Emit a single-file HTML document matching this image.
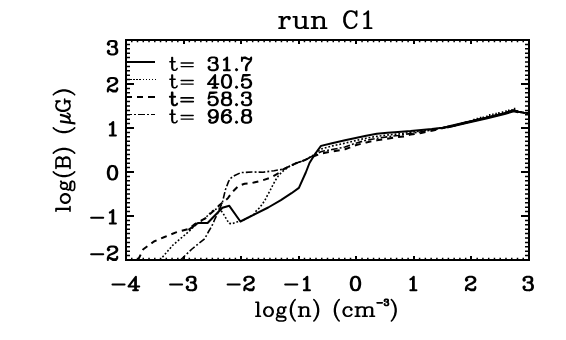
<!DOCTYPE html>
<html><head><meta charset="utf-8"><title>run C1</title>
<style>html,body{margin:0;padding:0;background:#fff;font-family:"Liberation Sans",sans-serif}svg{display:block}</style>
</head><body>
<svg width="566" height="340" viewBox="0 0 566 340">
<rect x="0" y="0" width="566" height="340" fill="#fff" stroke="none"/>
<g stroke="#000" fill="none" shape-rendering="crispEdges">
<rect x="126" y="40" width="403" height="220" stroke-width="2"/>
<path d="M126.00 260 v-4.4 M126.00 40 v4.4 M183.57 260 v-4.4 M183.57 40 v4.4 M241.14 260 v-4.4 M241.14 40 v4.4 M298.71 260 v-4.4 M298.71 40 v4.4 M356.29 260 v-4.4 M356.29 40 v4.4 M413.86 260 v-4.4 M413.86 40 v4.4 M471.43 260 v-4.4 M471.43 40 v4.4 M529.00 260 v-4.4 M529.00 40 v4.4 M126 260.00 h8.0 M529 260.00 h-8.0 M126 216.00 h8.0 M529 216.00 h-8.0 M126 172.00 h8.0 M529 172.00 h-8.0 M126 128.00 h8.0 M529 128.00 h-8.0 M126 84.00 h8.0 M529 84.00 h-8.0 M126 40.00 h8.0 M529 40.00 h-8.0" stroke-width="2"/>
</g>
<path d="M131.76 260 v-2.2 M131.76 40 v2.2 M137.51 260 v-2.2 M137.51 40 v2.2 M143.27 260 v-2.2 M143.27 40 v2.2 M149.03 260 v-2.2 M149.03 40 v2.2 M154.79 260 v-2.2 M154.79 40 v2.2 M160.54 260 v-2.2 M160.54 40 v2.2 M166.30 260 v-2.2 M166.30 40 v2.2 M172.06 260 v-2.2 M172.06 40 v2.2 M177.81 260 v-2.2 M177.81 40 v2.2 M189.33 260 v-2.2 M189.33 40 v2.2 M195.09 260 v-2.2 M195.09 40 v2.2 M200.84 260 v-2.2 M200.84 40 v2.2 M206.60 260 v-2.2 M206.60 40 v2.2 M212.36 260 v-2.2 M212.36 40 v2.2 M218.11 260 v-2.2 M218.11 40 v2.2 M223.87 260 v-2.2 M223.87 40 v2.2 M229.63 260 v-2.2 M229.63 40 v2.2 M235.39 260 v-2.2 M235.39 40 v2.2 M246.90 260 v-2.2 M246.90 40 v2.2 M252.66 260 v-2.2 M252.66 40 v2.2 M258.41 260 v-2.2 M258.41 40 v2.2 M264.17 260 v-2.2 M264.17 40 v2.2 M269.93 260 v-2.2 M269.93 40 v2.2 M275.69 260 v-2.2 M275.69 40 v2.2 M281.44 260 v-2.2 M281.44 40 v2.2 M287.20 260 v-2.2 M287.20 40 v2.2 M292.96 260 v-2.2 M292.96 40 v2.2 M304.47 260 v-2.2 M304.47 40 v2.2 M310.23 260 v-2.2 M310.23 40 v2.2 M315.99 260 v-2.2 M315.99 40 v2.2 M321.74 260 v-2.2 M321.74 40 v2.2 M327.50 260 v-2.2 M327.50 40 v2.2 M333.26 260 v-2.2 M333.26 40 v2.2 M339.01 260 v-2.2 M339.01 40 v2.2 M344.77 260 v-2.2 M344.77 40 v2.2 M350.53 260 v-2.2 M350.53 40 v2.2 M362.04 260 v-2.2 M362.04 40 v2.2 M367.80 260 v-2.2 M367.80 40 v2.2 M373.56 260 v-2.2 M373.56 40 v2.2 M379.31 260 v-2.2 M379.31 40 v2.2 M385.07 260 v-2.2 M385.07 40 v2.2 M390.83 260 v-2.2 M390.83 40 v2.2 M396.59 260 v-2.2 M396.59 40 v2.2 M402.34 260 v-2.2 M402.34 40 v2.2 M408.10 260 v-2.2 M408.10 40 v2.2 M419.61 260 v-2.2 M419.61 40 v2.2 M425.37 260 v-2.2 M425.37 40 v2.2 M431.13 260 v-2.2 M431.13 40 v2.2 M436.89 260 v-2.2 M436.89 40 v2.2 M442.64 260 v-2.2 M442.64 40 v2.2 M448.40 260 v-2.2 M448.40 40 v2.2 M454.16 260 v-2.2 M454.16 40 v2.2 M459.91 260 v-2.2 M459.91 40 v2.2 M465.67 260 v-2.2 M465.67 40 v2.2 M477.19 260 v-2.2 M477.19 40 v2.2 M482.94 260 v-2.2 M482.94 40 v2.2 M488.70 260 v-2.2 M488.70 40 v2.2 M494.46 260 v-2.2 M494.46 40 v2.2 M500.21 260 v-2.2 M500.21 40 v2.2 M505.97 260 v-2.2 M505.97 40 v2.2 M511.73 260 v-2.2 M511.73 40 v2.2 M517.49 260 v-2.2 M517.49 40 v2.2 M523.24 260 v-2.2 M523.24 40 v2.2 M126 255.60 h4.0 M529 255.60 h-4.0 M126 251.20 h4.0 M529 251.20 h-4.0 M126 246.80 h4.0 M529 246.80 h-4.0 M126 242.40 h4.0 M529 242.40 h-4.0 M126 238.00 h4.0 M529 238.00 h-4.0 M126 233.60 h4.0 M529 233.60 h-4.0 M126 229.20 h4.0 M529 229.20 h-4.0 M126 224.80 h4.0 M529 224.80 h-4.0 M126 220.40 h4.0 M529 220.40 h-4.0 M126 211.60 h4.0 M529 211.60 h-4.0 M126 207.20 h4.0 M529 207.20 h-4.0 M126 202.80 h4.0 M529 202.80 h-4.0 M126 198.40 h4.0 M529 198.40 h-4.0 M126 194.00 h4.0 M529 194.00 h-4.0 M126 189.60 h4.0 M529 189.60 h-4.0 M126 185.20 h4.0 M529 185.20 h-4.0 M126 180.80 h4.0 M529 180.80 h-4.0 M126 176.40 h4.0 M529 176.40 h-4.0 M126 167.60 h4.0 M529 167.60 h-4.0 M126 163.20 h4.0 M529 163.20 h-4.0 M126 158.80 h4.0 M529 158.80 h-4.0 M126 154.40 h4.0 M529 154.40 h-4.0 M126 150.00 h4.0 M529 150.00 h-4.0 M126 145.60 h4.0 M529 145.60 h-4.0 M126 141.20 h4.0 M529 141.20 h-4.0 M126 136.80 h4.0 M529 136.80 h-4.0 M126 132.40 h4.0 M529 132.40 h-4.0 M126 123.60 h4.0 M529 123.60 h-4.0 M126 119.20 h4.0 M529 119.20 h-4.0 M126 114.80 h4.0 M529 114.80 h-4.0 M126 110.40 h4.0 M529 110.40 h-4.0 M126 106.00 h4.0 M529 106.00 h-4.0 M126 101.60 h4.0 M529 101.60 h-4.0 M126 97.20 h4.0 M529 97.20 h-4.0 M126 92.80 h4.0 M529 92.80 h-4.0 M126 88.40 h4.0 M529 88.40 h-4.0 M126 79.60 h4.0 M529 79.60 h-4.0 M126 75.20 h4.0 M529 75.20 h-4.0 M126 70.80 h4.0 M529 70.80 h-4.0 M126 66.40 h4.0 M529 66.40 h-4.0 M126 62.00 h4.0 M529 62.00 h-4.0 M126 57.60 h4.0 M529 57.60 h-4.0 M126 53.20 h4.0 M529 53.20 h-4.0 M126 48.80 h4.0 M529 48.80 h-4.0 M126 44.40 h4.0 M529 44.40 h-4.0" stroke="#000" stroke-width="1.5"/>
<g stroke="#000" fill="none" stroke-linejoin="round">
<path d="M188.5 229.9 L198.0 223.0 L207.6 223.0 L222.4 207.7 L229.3 205.8 L240.4 221.5 L268.2 207.5 L280.9 200.1 L291.5 193.2 L298.9 187.9 L305.8 172.5 L309.5 163.0 L315.0 154.0 L321.0 145.9 L332.0 143.3 L345.0 140.3 L355.6 138.0 L366.2 135.7 L376.8 133.8 L387.4 132.7 L398.0 131.9 L410.6 131.0 L421.2 130.0 L431.8 129.1 L442.4 127.8 L453.0 125.9 L465.2 122.7 L487.3 117.6 L504.5 113.4 L513.6 110.5 L518.2 111.7 L524.0 112.8 L528.0 113.1" stroke-width="2"/>
<path d="M160.0 260.0 L173.0 245.0 L187.8 232.4 L196.0 224.7 L204.7 218.6 L209.7 213.5 L213.9 209.8 L219.0 208.3 L222.9 213.0 L225.1 216.7 L227.2 220.4 L229.3 223.4 L232.0 223.8 L236.2 222.0 L241.0 221.2 L254.0 214.5 L255.8 211.4 L259.0 208.3 L261.6 205.1 L264.8 200.5 L267.7 194.8 L269.8 191.1 L273.0 184.7 L275.6 180.0 L278.8 175.2 L283.1 171.0 L290.0 166.0 L297.4 162.7 L304.8 160.1 L312.2 155.8 L321.5 149.0 L332.0 146.0 L345.0 143.2 L355.6 140.6 L366.0 138.2 L377.0 136.3 L387.0 135.0 L398.0 134.0 L410.0 132.5 L421.0 131.0 L432.0 129.5 L442.4 127.8 L453.0 125.9 L465.2 122.7 L487.3 117.6 L504.5 113.4 L513.6 110.5 L518.2 111.7 L524.0 112.8 L528.0 113.1" stroke-width="1.6" stroke-dasharray="1.8 1.95"/>
<path d="M138.0 260.0 L143.3 249.3 L153.9 241.5 L164.5 237.0 L176.0 232.4 L188.9 228.8 L195.2 223.9 L205.4 218.3 L208.6 215.1 L215.0 209.8 L219.6 205.0 L227.9 198.3 L231.6 192.8 L238.4 186.0 L244.6 183.7 L250.7 183.3 L255.0 182.3 L261.4 180.7 L270.9 177.6 L279.4 172.8 L283.6 169.1 L290.0 166.0 L297.4 162.7 L304.8 160.1 L312.2 156.8 L321.5 153.5 L332.0 151.5 L345.0 149.3 L355.6 145.3 L366.2 142.4 L376.8 140.3 L387.4 138.7 L398.0 137.1 L405.0 136.3 L410.6 134.6 L421.2 132.9 L431.8 130.8 L439.0 129.3 L445.0 127.5 L453.0 125.9 L465.2 122.7 L487.3 117.6 L504.5 113.4 L513.6 110.5 L518.2 111.7 L524.0 112.8 L528.0 113.1" stroke-width="2" stroke-dasharray="6 5"/>
<path d="M180.4 260.0 L192.0 249.0 L204.7 238.7 L208.6 231.5 L211.8 226.2 L215.0 218.8 L217.6 213.5 L222.4 202.4 L225.4 189.7 L228.5 181.6 L230.3 178.5 L234.7 175.5 L240.9 172.6 L252.0 172.0 L263.1 172.2 L274.1 170.7 L283.6 169.1 L290.0 166.0 L297.4 162.7 L304.8 160.1 L312.2 156.3 L321.5 151.5 L332.0 149.5 L345.0 147.0 L355.6 143.2 L366.0 140.3 L377.0 138.3 L387.0 136.9 L398.0 135.5 L410.0 133.6 L421.0 131.8 L432.0 130.1 L442.4 127.8 L453.0 125.9 L465.2 122.7 L487.3 117.6 L504.5 113.4 L513.6 110.5 L518.2 111.7 L524.0 112.8 L528.0 113.1" stroke-width="1.6" stroke-dasharray="6.6 2.15 1.9 2.15"/>
<path d="M474.0 120.5 v-1.7 M477.3 119.7 v-1.9 M480.6 118.8 v-2.1 M483.3 118.1 v-1.5 M486.9 117.2 v-1.8 M489.7 116.5 v-2.5 M492.9 115.7 v-2.3 M496.1 114.9 v-2.1 M498.9 114.2 v-2.1 M502.5 113.3 v-2.0 M506.0 112.4 v-2.2 M508.7 111.7 v-2.3 M512.0 110.9 v-1.8 M514.6 110.2 v-2.4" stroke-width="1.5"/>
<path d="M447 127.2 L465.2 122.9 L487.3 117.8 L504.5 113.6 L513.6 110.9 L518.2 111.9" stroke-width="2.8"/>
<path d="M127 62 H155" stroke-width="2" shape-rendering="crispEdges"/>
<path d="M127 79.5 H156" stroke-width="1" stroke-dasharray="1.5 1.6" shape-rendering="crispEdges"/>
<path d="M126 97 H155" stroke-width="2" stroke-dasharray="6 5 6 5 7 5" shape-rendering="crispEdges"/>
<path d="M125.3 114.5 H155" stroke-width="1" stroke-dasharray="6.6 2.15 1.9 2.15" shape-rendering="crispEdges"/>
</g>
<g stroke="#000" fill="none" stroke-linecap="round" stroke-linejoin="round">
<path transform="translate(326.60 28.20) translate(-49.15 0)" d="M1.67 -11.41 L5.00 -11.41 L5.00 0.00 M4.17 -11.41 L4.17 0.00 M5.00 -6.52 L5.83 -8.96 L7.50 -10.59 L9.16 -11.41 L11.66 -11.41 L12.49 -10.59 L12.49 -9.78 L11.66 -8.96 L10.83 -9.78 L11.66 -10.59 M1.67 0.00 L7.50 0.00 M15.83 -11.41 L19.16 -11.41 L19.16 -2.44 L19.99 -0.81 L21.66 0.00 L23.32 0.00 L25.82 -0.81 L27.49 -2.44 M18.33 -11.41 L18.33 -2.44 L19.16 -0.81 L21.66 0.00 M24.99 -11.41 L28.32 -11.41 L28.32 0.00 M27.49 -11.41 L27.49 0.00 L30.82 0.00 M34.15 -11.41 L37.48 -11.41 L37.48 0.00 M36.65 -11.41 L36.65 0.00 M37.48 -8.96 L39.15 -10.59 L41.65 -11.41 L43.32 -11.41 L44.98 -10.59 L45.81 -8.96 L45.81 0.00 M43.32 -11.41 L45.81 -10.59 L46.65 -8.96 L46.65 0.00 M34.15 0.00 L39.98 0.00 M43.32 0.00 L49.15 0.00 M72.47 -17.11 L70.81 -16.30 L69.14 -14.67 L68.31 -13.04 L67.47 -10.59 L67.47 -6.52 L68.31 -4.07 L69.14 -2.44 L70.81 -0.81 L72.47 0.00 L69.97 -0.81 L68.31 -2.44 L67.47 -4.07 L66.64 -6.52 L66.64 -10.59 L67.47 -13.04 L68.31 -14.67 L69.97 -16.30 L72.47 -17.11 L74.14 -17.11 L76.64 -16.30 L78.30 -14.67 L79.14 -12.22 L79.14 -17.11 L78.30 -14.67 M79.14 -4.07 L78.30 -2.44 L76.64 -0.81 L74.14 0.00 L72.47 0.00 M90.80 0.00 L90.80 -17.11 L88.30 -14.67 L86.63 -13.85 M89.96 -16.30 L89.96 0.00 M86.63 0.00 L94.13 0.00" stroke-width="1.8" />
<path transform="translate(326.60 316.30) translate(-72.12 0)" d="M1.33 -14.01 L4.00 -14.01 L4.00 0.00 M3.33 -14.01 L3.33 0.00 M1.33 0.00 L6.00 0.00 M13.34 -9.34 L12.01 -8.67 L10.67 -7.34 L10.01 -5.34 L10.01 -4.00 L10.67 -2.00 L12.01 -0.67 L13.34 0.00 L11.34 -0.67 L10.01 -2.00 L9.34 -4.00 L9.34 -5.34 L10.01 -7.34 L11.34 -8.67 L13.34 -9.34 L14.67 -9.34 L16.01 -8.67 L17.34 -7.34 L18.01 -5.34 L18.01 -4.00 L17.34 -2.00 L16.01 -0.67 L14.67 0.00 L16.68 -0.67 L18.01 -2.00 L18.68 -4.00 L18.68 -5.34 L18.01 -7.34 L16.68 -8.67 L14.67 -9.34 M13.34 0.00 L14.67 0.00 M22.68 -1.33 L23.34 0.00 L25.35 0.67 L28.68 0.67 L30.68 1.33 L31.35 2.00 L30.68 0.67 L28.68 0.00 L25.35 0.00 L23.34 -0.67 L22.68 -1.33 L22.68 -2.00 L23.34 -3.33 L24.01 -4.00 L23.34 -5.34 L23.34 -6.67 L24.01 -8.00 L24.68 -8.67 L26.01 -9.34 L27.35 -9.34 L28.68 -8.67 L29.35 -8.00 L30.02 -8.67 L31.35 -9.34 L31.35 -8.67 L30.02 -8.67 M24.68 -8.67 L24.01 -7.34 L24.01 -4.67 L24.68 -3.33 L24.01 -4.00 M28.68 -8.67 L29.35 -7.34 L29.35 -4.67 L28.68 -3.33 L29.35 -4.00 L30.02 -5.34 L30.02 -6.67 L29.35 -8.00 M24.68 -3.33 L26.01 -2.67 L27.35 -2.67 L28.68 -3.33 M24.68 0.00 L22.68 0.67 L22.01 2.00 L22.01 2.67 L22.68 4.00 L24.68 4.67 L28.68 4.67 L30.68 4.00 L31.35 2.67 L31.35 2.00 M40.69 -16.68 L39.35 -15.34 L38.02 -13.34 L36.69 -10.67 L36.02 -7.34 L36.02 -4.67 L36.69 -1.33 L38.02 1.33 L39.35 3.33 L40.69 4.67 M39.35 -15.34 L38.02 -12.67 L37.35 -10.67 L36.69 -7.34 L36.69 -4.67 L37.35 -1.33 L38.02 0.67 L39.35 3.33 M44.02 -9.34 L46.69 -9.34 L46.69 0.00 M46.02 -9.34 L46.02 0.00 M46.69 -7.34 L48.02 -8.67 L50.03 -9.34 L51.36 -9.34 L52.69 -8.67 L53.36 -7.34 L53.36 0.00 M51.36 -9.34 L53.36 -8.67 L54.03 -7.34 L54.03 0.00 M44.02 0.00 L48.69 0.00 M51.36 0.00 L56.03 0.00 M59.36 -16.68 L60.70 -15.34 L62.03 -13.34 L63.37 -10.67 L64.03 -7.34 L64.03 -4.67 L63.37 -1.33 L62.03 1.33 L60.70 3.33 L59.36 4.67 M60.70 -15.34 L62.03 -12.67 L62.70 -10.67 L63.37 -7.34 L63.37 -4.67 L62.70 -1.33 L62.03 0.67 L60.70 3.33 M84.71 -16.68 L83.38 -15.34 L82.04 -13.34 L80.71 -10.67 L80.04 -7.34 L80.04 -4.67 L80.71 -1.33 L82.04 1.33 L83.38 3.33 L84.71 4.67 M83.38 -15.34 L82.04 -12.67 L81.37 -10.67 L80.71 -7.34 L80.71 -4.67 L81.37 -1.33 L82.04 0.67 L83.38 3.33 M92.71 -9.34 L91.38 -8.67 L90.05 -7.34 L89.38 -5.34 L89.38 -4.00 L90.05 -2.00 L91.38 -0.67 L92.71 0.00 L90.71 -0.67 L89.38 -2.00 L88.71 -4.00 L88.71 -5.34 L89.38 -7.34 L90.71 -8.67 L92.71 -9.34 L94.71 -9.34 L96.05 -8.67 L97.38 -7.34 L97.38 -6.67 L96.72 -6.00 L96.05 -6.67 L96.72 -7.34 M97.38 -2.00 L96.05 -0.67 L94.05 0.00 L92.71 0.00 M100.72 -9.34 L103.39 -9.34 L103.39 0.00 M102.72 -9.34 L102.72 0.00 M103.39 -7.34 L104.72 -8.67 L106.72 -9.34 L108.05 -9.34 L109.39 -8.67 L110.06 -7.34 L110.06 0.00 M108.05 -9.34 L110.06 -8.67 L110.72 -7.34 L112.06 -8.67 L114.06 -9.34 L115.39 -9.34 L116.73 -8.67 L117.39 -7.34 L117.39 0.00 M115.39 -9.34 L117.39 -8.67 L118.06 -7.34 L118.06 0.00 M110.72 -7.34 L110.72 0.00 M100.72 0.00 L105.39 0.00 M108.05 0.00 L112.72 0.00 M115.39 0.00 L120.06 0.00 M122.57 -13.45 L127.85 -13.45 M130.20 -15.79 L130.49 -15.50 L130.20 -15.21 L129.90 -15.50 L129.90 -15.79 L130.20 -16.38 L130.49 -16.68 L131.37 -16.97 L132.55 -16.97 L133.13 -16.68 L133.43 -16.09 L133.43 -15.21 L133.13 -14.62 L132.55 -14.33 L133.43 -14.62 L133.72 -15.21 L133.72 -16.09 L133.43 -16.68 L132.55 -16.97 M131.67 -14.33 L132.55 -14.33 L133.13 -14.03 L133.72 -13.45 L134.01 -12.86 L134.01 -11.98 L133.72 -11.39 L133.43 -11.10 L132.55 -10.81 L131.37 -10.81 L130.49 -11.10 L130.20 -11.39 L129.90 -11.98 L129.90 -12.27 L130.20 -12.57 L130.49 -12.27 L130.20 -11.98 M133.43 -13.74 L133.72 -12.86 L133.72 -11.98 L133.43 -11.39 L133.13 -11.10 L132.55 -10.81 M136.90 -16.68 L138.23 -15.34 L139.56 -13.34 L140.90 -10.67 L141.56 -7.34 L141.56 -4.67 L140.90 -1.33 L139.56 1.33 L138.23 3.33 L136.90 4.67 M138.23 -15.34 L139.56 -12.67 L140.23 -10.67 L140.90 -7.34 L140.90 -4.67 L140.23 -1.33 L139.56 0.67 L138.23 3.33" stroke-width="1.6" />
<path transform="translate(70.00 150.00) rotate(-90) translate(-62.53 0)" d="M1.33 -14.01 L4.00 -14.01 L4.00 0.00 M3.33 -14.01 L3.33 0.00 M1.33 0.00 L6.00 0.00 M13.34 -9.34 L12.01 -8.67 L10.67 -7.34 L10.01 -5.34 L10.01 -4.00 L10.67 -2.00 L12.01 -0.67 L13.34 0.00 L11.34 -0.67 L10.01 -2.00 L9.34 -4.00 L9.34 -5.34 L10.01 -7.34 L11.34 -8.67 L13.34 -9.34 L14.67 -9.34 L16.01 -8.67 L17.34 -7.34 L18.01 -5.34 L18.01 -4.00 L17.34 -2.00 L16.01 -0.67 L14.67 0.00 L16.68 -0.67 L18.01 -2.00 L18.68 -4.00 L18.68 -5.34 L18.01 -7.34 L16.68 -8.67 L14.67 -9.34 M13.34 0.00 L14.67 0.00 M22.68 -1.33 L23.34 0.00 L25.35 0.67 L28.68 0.67 L30.68 1.33 L31.35 2.00 L30.68 0.67 L28.68 0.00 L25.35 0.00 L23.34 -0.67 L22.68 -1.33 L22.68 -2.00 L23.34 -3.33 L24.01 -4.00 L23.34 -5.34 L23.34 -6.67 L24.01 -8.00 L24.68 -8.67 L26.01 -9.34 L27.35 -9.34 L28.68 -8.67 L29.35 -8.00 L30.02 -8.67 L31.35 -9.34 L31.35 -8.67 L30.02 -8.67 M24.68 -8.67 L24.01 -7.34 L24.01 -4.67 L24.68 -3.33 L24.01 -4.00 M28.68 -8.67 L29.35 -7.34 L29.35 -4.67 L28.68 -3.33 L29.35 -4.00 L30.02 -5.34 L30.02 -6.67 L29.35 -8.00 M24.68 -3.33 L26.01 -2.67 L27.35 -2.67 L28.68 -3.33 M24.68 0.00 L22.68 0.67 L22.01 2.00 L22.01 2.67 L22.68 4.00 L24.68 4.67 L28.68 4.67 L30.68 4.00 L31.35 2.67 L31.35 2.00 M40.69 -16.68 L39.35 -15.34 L38.02 -13.34 L36.69 -10.67 L36.02 -7.34 L36.02 -4.67 L36.69 -1.33 L38.02 1.33 L39.35 3.33 L40.69 4.67 M39.35 -15.34 L38.02 -12.67 L37.35 -10.67 L36.69 -7.34 L36.69 -4.67 L37.35 -1.33 L38.02 0.67 L39.35 3.33 M44.02 -14.01 L52.03 -14.01 L53.36 -13.34 L54.03 -12.67 L54.69 -11.34 L54.69 -10.01 L54.03 -8.67 L53.36 -8.00 L52.03 -7.34 L54.03 -8.00 L54.69 -8.67 L55.36 -10.01 L55.36 -11.34 L54.69 -12.67 L54.03 -13.34 L52.03 -14.01 M46.02 -14.01 L46.02 0.00 M46.69 -14.01 L46.69 0.00 M46.69 -7.34 L52.03 -7.34 L53.36 -6.67 L54.03 -6.00 L54.69 -4.67 L54.69 -2.67 L54.03 -1.33 L53.36 -0.67 L52.03 0.00 L54.03 -0.67 L54.69 -1.33 L55.36 -2.67 L55.36 -4.67 L54.69 -6.00 L54.03 -6.67 L52.03 -7.34 M44.02 0.00 L52.03 0.00 M59.36 -16.68 L60.70 -15.34 L62.03 -13.34 L63.37 -10.67 L64.03 -7.34 L64.03 -4.67 L63.37 -1.33 L62.03 1.33 L60.70 3.33 L59.36 4.67 M60.70 -15.34 L62.03 -12.67 L62.70 -10.67 L63.37 -7.34 L63.37 -4.67 L62.70 -1.33 L62.03 0.67 L60.70 3.33 M84.71 -16.68 L83.38 -15.34 L82.04 -13.34 L80.71 -10.67 L80.04 -7.34 L80.04 -4.67 L80.71 -1.33 L82.04 1.33 L83.38 3.33 L84.71 4.67 M83.38 -15.34 L82.04 -12.67 L81.37 -10.67 L80.71 -7.34 L80.71 -4.67 L81.37 -1.33 L82.04 0.67 L83.38 3.33 M90.71 -9.34 L88.71 4.67 M91.38 -9.34 L89.38 4.67 M90.71 -7.34 L90.05 -3.33 L90.05 -1.33 L90.71 0.00 L92.05 0.00 L93.38 -0.67 L94.71 -2.00 L96.05 -4.67 M97.38 -9.34 L96.05 -4.67 L95.38 -2.00 L95.38 -0.67 L96.05 0.00 L97.38 0.00 L98.72 -1.33 L99.38 -2.67 M98.05 -9.34 L96.72 -4.67 L96.05 -2.00 M106.05 -14.01 L104.72 -13.34 L103.39 -12.01 L102.72 -10.67 L102.05 -8.67 L102.05 -5.34 L102.72 -3.33 L103.39 -2.00 L104.72 -0.67 L106.05 0.00 L104.05 -0.67 L102.72 -2.00 L102.05 -3.33 L101.38 -5.34 L101.38 -8.67 L102.05 -10.67 L102.72 -12.01 L104.05 -13.34 L106.05 -14.01 L107.39 -14.01 L109.39 -13.34 L110.72 -12.01 L111.39 -10.01 L111.39 -14.01 L110.72 -12.01 M108.72 -5.34 L113.39 -5.34 M110.72 -5.34 L110.72 0.00 M111.39 -5.34 L111.39 0.00 M110.72 -2.00 L109.39 -0.67 L107.39 0.00 L106.05 0.00 M117.73 -16.68 L119.06 -15.34 L120.39 -13.34 L121.73 -10.67 L122.39 -7.34 L122.39 -4.67 L121.73 -1.33 L120.39 1.33 L119.06 3.33 L117.73 4.67 M119.06 -15.34 L120.39 -12.67 L121.06 -10.67 L121.73 -7.34 L121.73 -4.67 L121.06 -1.33 L120.39 0.67 L119.06 3.33" stroke-width="1.6" />
<path transform="translate(125.20 290.30) translate(-15.34 0)" d="M2.67 -5.80 L14.67 -5.80 M26.01 0.00 L26.01 -13.54 L18.68 -3.87 L29.35 -3.87 M25.35 -12.26 L25.35 0.00 M23.35 0.00 L28.01 0.00" stroke-width="2.1" />
<path transform="translate(182.77 290.30) translate(-15.34 0)" d="M2.67 -5.80 L14.67 -5.80 M20.01 -10.96 L20.68 -10.32 L20.01 -9.68 L19.34 -10.32 L19.34 -10.96 L20.01 -12.26 L20.68 -12.90 L22.68 -13.54 L25.35 -13.54 L26.68 -12.90 L27.35 -11.61 L27.35 -9.68 L26.68 -8.38 L25.35 -7.74 L27.35 -8.38 L28.01 -9.68 L28.01 -11.61 L27.35 -12.90 L25.35 -13.54 M23.35 -7.74 L25.35 -7.74 L26.68 -7.10 L28.01 -5.80 L28.68 -4.52 L28.68 -2.58 L28.01 -1.29 L27.35 -0.65 L25.35 0.00 L22.68 0.00 L20.68 -0.65 L20.01 -1.29 L19.34 -2.58 L19.34 -3.23 L20.01 -3.87 L20.68 -3.23 L20.01 -2.58 M27.35 -6.45 L28.01 -4.52 L28.01 -2.58 L27.35 -1.29 L26.68 -0.65 L25.35 0.00" stroke-width="2.1" />
<path transform="translate(240.34 290.30) translate(-15.34 0)" d="M2.67 -5.80 L14.67 -5.80 M20.01 -10.96 L20.68 -10.32 L20.01 -9.68 L19.34 -10.32 L19.34 -10.96 L20.01 -12.26 L20.68 -12.90 L22.68 -13.54 L25.35 -13.54 L26.68 -12.90 L27.35 -12.26 L28.01 -10.96 L28.01 -9.68 L27.35 -8.38 L25.35 -7.10 L21.34 -5.16 L20.01 -3.87 L19.34 -1.94 L19.34 0.00 M25.35 -13.54 L27.35 -12.90 L28.01 -12.26 L28.68 -10.96 L28.68 -9.68 L28.01 -8.38 L26.01 -7.10 L22.68 -5.80 M28.68 -3.23 L28.68 -1.94 L28.01 -1.29 L26.68 -0.65 L24.68 -0.65 L21.34 -1.94 L24.68 0.00 L27.35 0.00 L28.01 -0.65 L28.68 -1.94 M19.34 -1.29 L20.01 -1.94 L21.34 -1.94" stroke-width="2.1" />
<path transform="translate(297.91 290.30) translate(-15.34 0)" d="M2.67 -5.80 L14.67 -5.80 M24.68 0.00 L24.68 -13.54 L22.68 -11.61 L21.34 -10.96 M24.01 -12.90 L24.01 0.00 M21.34 0.00 L27.35 0.00" stroke-width="2.1" />
<path transform="translate(355.49 290.30) translate(-6.67 0)" d="M6.00 -13.54 L4.67 -12.90 L4.00 -12.26 L3.33 -10.96 L2.67 -7.74 L2.67 -5.80 L3.33 -2.58 L4.00 -1.29 L4.67 -0.65 L6.00 0.00 L4.00 -0.65 L2.67 -2.58 L2.00 -5.80 L2.00 -7.74 L2.67 -10.96 L4.00 -12.90 L6.00 -13.54 L7.34 -13.54 L8.67 -12.90 L9.34 -12.26 L10.01 -10.96 L10.67 -7.74 L10.67 -5.80 L10.01 -2.58 L9.34 -1.29 L8.67 -0.65 L7.34 0.00 L9.34 -0.65 L10.67 -2.58 L11.34 -5.80 L11.34 -7.74 L10.67 -10.96 L9.34 -12.90 L7.34 -13.54 M6.00 0.00 L7.34 0.00" stroke-width="2.1" />
<path transform="translate(413.06 290.30) translate(-6.67 0)" d="M7.34 0.00 L7.34 -13.54 L5.34 -11.61 L4.00 -10.96 M6.67 -12.90 L6.67 0.00 M4.00 0.00 L10.01 0.00" stroke-width="2.1" />
<path transform="translate(470.63 290.30) translate(-6.67 0)" d="M2.67 -10.96 L3.33 -10.32 L2.67 -9.68 L2.00 -10.32 L2.00 -10.96 L2.67 -12.26 L3.33 -12.90 L5.34 -13.54 L8.00 -13.54 L9.34 -12.90 L10.01 -12.26 L10.67 -10.96 L10.67 -9.68 L10.01 -8.38 L8.00 -7.10 L4.00 -5.16 L2.67 -3.87 L2.00 -1.94 L2.00 0.00 M8.00 -13.54 L10.01 -12.90 L10.67 -12.26 L11.34 -10.96 L11.34 -9.68 L10.67 -8.38 L8.67 -7.10 L5.34 -5.80 M11.34 -3.23 L11.34 -1.94 L10.67 -1.29 L9.34 -0.65 L7.34 -0.65 L4.00 -1.94 L7.34 0.00 L10.01 0.00 L10.67 -0.65 L11.34 -1.94 M2.00 -1.29 L2.67 -1.94 L4.00 -1.94" stroke-width="2.1" />
<path transform="translate(528.20 290.30) translate(-6.67 0)" d="M2.67 -10.96 L3.33 -10.32 L2.67 -9.68 L2.00 -10.32 L2.00 -10.96 L2.67 -12.26 L3.33 -12.90 L5.34 -13.54 L8.00 -13.54 L9.34 -12.90 L10.01 -11.61 L10.01 -9.68 L9.34 -8.38 L8.00 -7.74 L10.01 -8.38 L10.67 -9.68 L10.67 -11.61 L10.01 -12.90 L8.00 -13.54 M6.00 -7.74 L8.00 -7.74 L9.34 -7.10 L10.67 -5.80 L11.34 -4.52 L11.34 -2.58 L10.67 -1.29 L10.01 -0.65 L8.00 0.00 L5.34 0.00 L3.33 -0.65 L2.67 -1.29 L2.00 -2.58 L2.00 -3.23 L2.67 -3.87 L3.33 -3.23 L2.67 -2.58 M10.01 -6.45 L10.67 -4.52 L10.67 -2.58 L10.01 -1.29 L9.34 -0.65 L8.00 0.00" stroke-width="2.1" />
<path transform="translate(119.20 260.00) translate(-30.68 0)" d="M2.67 -5.80 L14.67 -5.80 M20.01 -10.96 L20.68 -10.32 L20.01 -9.68 L19.34 -10.32 L19.34 -10.96 L20.01 -12.26 L20.68 -12.90 L22.68 -13.54 L25.35 -13.54 L26.68 -12.90 L27.35 -12.26 L28.01 -10.96 L28.01 -9.68 L27.35 -8.38 L25.35 -7.10 L21.34 -5.16 L20.01 -3.87 L19.34 -1.94 L19.34 0.00 M25.35 -13.54 L27.35 -12.90 L28.01 -12.26 L28.68 -10.96 L28.68 -9.68 L28.01 -8.38 L26.01 -7.10 L22.68 -5.80 M28.68 -3.23 L28.68 -1.94 L28.01 -1.29 L26.68 -0.65 L24.68 -0.65 L21.34 -1.94 L24.68 0.00 L27.35 0.00 L28.01 -0.65 L28.68 -1.94 M19.34 -1.29 L20.01 -1.94 L21.34 -1.94" stroke-width="2.1" />
<path transform="translate(119.20 223.50) translate(-30.68 0)" d="M2.67 -5.80 L14.67 -5.80 M24.68 0.00 L24.68 -13.54 L22.68 -11.61 L21.34 -10.96 M24.01 -12.90 L24.01 0.00 M21.34 0.00 L27.35 0.00" stroke-width="2.1" />
<path transform="translate(119.20 179.50) translate(-13.34 0)" d="M6.00 -13.54 L4.67 -12.90 L4.00 -12.26 L3.33 -10.96 L2.67 -7.74 L2.67 -5.80 L3.33 -2.58 L4.00 -1.29 L4.67 -0.65 L6.00 0.00 L4.00 -0.65 L2.67 -2.58 L2.00 -5.80 L2.00 -7.74 L2.67 -10.96 L4.00 -12.90 L6.00 -13.54 L7.34 -13.54 L8.67 -12.90 L9.34 -12.26 L10.01 -10.96 L10.67 -7.74 L10.67 -5.80 L10.01 -2.58 L9.34 -1.29 L8.67 -0.65 L7.34 0.00 L9.34 -0.65 L10.67 -2.58 L11.34 -5.80 L11.34 -7.74 L10.67 -10.96 L9.34 -12.90 L7.34 -13.54 M6.00 0.00 L7.34 0.00" stroke-width="2.1" />
<path transform="translate(119.20 135.50) translate(-13.34 0)" d="M7.34 0.00 L7.34 -13.54 L5.34 -11.61 L4.00 -10.96 M6.67 -12.90 L6.67 0.00 M4.00 0.00 L10.01 0.00" stroke-width="2.1" />
<path transform="translate(119.20 91.50) translate(-13.34 0)" d="M2.67 -10.96 L3.33 -10.32 L2.67 -9.68 L2.00 -10.32 L2.00 -10.96 L2.67 -12.26 L3.33 -12.90 L5.34 -13.54 L8.00 -13.54 L9.34 -12.90 L10.01 -12.26 L10.67 -10.96 L10.67 -9.68 L10.01 -8.38 L8.00 -7.10 L4.00 -5.16 L2.67 -3.87 L2.00 -1.94 L2.00 0.00 M8.00 -13.54 L10.01 -12.90 L10.67 -12.26 L11.34 -10.96 L11.34 -9.68 L10.67 -8.38 L8.67 -7.10 L5.34 -5.80 M11.34 -3.23 L11.34 -1.94 L10.67 -1.29 L9.34 -0.65 L7.34 -0.65 L4.00 -1.94 L7.34 0.00 L10.01 0.00 L10.67 -0.65 L11.34 -1.94 M2.00 -1.29 L2.67 -1.94 L4.00 -1.94" stroke-width="2.1" />
<path transform="translate(119.20 54.50) translate(-13.34 0)" d="M2.67 -10.96 L3.33 -10.32 L2.67 -9.68 L2.00 -10.32 L2.00 -10.96 L2.67 -12.26 L3.33 -12.90 L5.34 -13.54 L8.00 -13.54 L9.34 -12.90 L10.01 -11.61 L10.01 -9.68 L9.34 -8.38 L8.00 -7.74 L10.01 -8.38 L10.67 -9.68 L10.67 -11.61 L10.01 -12.90 L8.00 -13.54 M6.00 -7.74 L8.00 -7.74 L9.34 -7.10 L10.67 -5.80 L11.34 -4.52 L11.34 -2.58 L10.67 -1.29 L10.01 -0.65 L8.00 0.00 L5.34 0.00 L3.33 -0.65 L2.67 -1.29 L2.00 -2.58 L2.00 -3.23 L2.67 -3.87 L3.33 -3.23 L2.67 -2.58 M10.01 -6.45 L10.67 -4.52 L10.67 -2.58 L10.01 -1.29 L9.34 -0.65 L8.00 0.00" stroke-width="2.1" />
<path transform="translate(168.50 70.30) translate(-0.00 0)" d="M3.33 -12.91 L3.33 -2.46 L4.00 -0.61 L5.34 0.00 L4.67 -0.61 L4.00 -2.46 L4.00 -12.91 M1.33 -8.61 L6.67 -8.61 M8.67 -1.84 L8.00 -0.61 L6.67 0.00 L5.34 0.00 M12.67 -7.38 L24.68 -7.38 M12.67 -3.69 L24.68 -3.69" stroke-width="1.45" />
<path transform="translate(206.52 70.30) translate(-0.00 0)" d="M2.67 -10.46 L3.33 -9.84 L2.67 -9.22 L2.00 -9.84 L2.00 -10.46 L2.67 -11.69 L3.33 -12.30 L5.34 -12.91 L8.00 -12.91 L9.34 -12.30 L10.01 -11.07 L10.01 -9.22 L9.34 -8.00 L8.00 -7.38 L10.01 -8.00 L10.67 -9.22 L10.67 -11.07 L10.01 -12.30 L8.00 -12.91 M6.00 -7.38 L8.00 -7.38 L9.34 -6.76 L10.67 -5.54 L11.34 -4.30 L11.34 -2.46 L10.67 -1.23 L10.01 -0.61 L8.00 0.00 L5.34 0.00 L3.33 -0.61 L2.67 -1.23 L2.00 -2.46 L2.00 -3.08 L2.67 -3.69 L3.33 -3.08 L2.67 -2.46 M10.01 -6.15 L10.67 -4.30 L10.67 -2.46 L10.01 -1.23 L9.34 -0.61 L8.00 0.00 M20.68 0.00 L20.68 -12.91 L18.68 -11.07 L17.34 -10.46 M20.01 -12.30 L20.01 0.00 M17.34 0.00 L23.34 0.00 M30.68 -0.61 L30.02 -1.23 L29.35 -0.61 L30.02 0.00 L30.68 -0.61 M35.35 -12.91 L35.35 -9.22 M37.35 -12.30 L36.02 -11.69 L37.35 -12.91 L38.69 -12.91 L42.02 -11.07 L38.69 -12.30 L37.35 -12.30 M39.35 0.00 L39.35 -3.08 L40.02 -4.92 L40.69 -6.15 L44.02 -9.22 L44.69 -11.07 L44.69 -12.91 L44.02 -11.69 L43.36 -11.07 L42.02 -11.07 M36.02 -11.69 L35.35 -10.46 M44.02 -9.22 L41.35 -6.15 L40.69 -4.92 L40.02 -3.08 L40.02 0.00" stroke-width="1.9" />
<path transform="translate(168.50 87.80) translate(-0.00 0)" d="M3.33 -12.91 L3.33 -2.46 L4.00 -0.61 L5.34 0.00 L4.67 -0.61 L4.00 -2.46 L4.00 -12.91 M1.33 -8.61 L6.67 -8.61 M8.67 -1.84 L8.00 -0.61 L6.67 0.00 L5.34 0.00 M12.67 -7.38 L24.68 -7.38 M12.67 -3.69 L24.68 -3.69" stroke-width="1.45" />
<path transform="translate(206.52 87.80) translate(-0.00 0)" d="M8.67 0.00 L8.67 -12.91 L1.33 -3.69 L12.01 -3.69 M8.00 -11.69 L8.00 0.00 M6.00 0.00 L10.67 0.00 M19.34 -12.91 L18.01 -12.30 L17.34 -11.69 L16.68 -10.46 L16.01 -7.38 L16.01 -5.54 L16.68 -2.46 L17.34 -1.23 L18.01 -0.61 L19.34 0.00 L17.34 -0.61 L16.01 -2.46 L15.34 -5.54 L15.34 -7.38 L16.01 -10.46 L17.34 -12.30 L19.34 -12.91 L20.68 -12.91 L22.01 -12.30 L22.68 -11.69 L23.34 -10.46 L24.01 -7.38 L24.01 -5.54 L23.34 -2.46 L22.68 -1.23 L22.01 -0.61 L20.68 0.00 L22.68 -0.61 L24.01 -2.46 L24.68 -5.54 L24.68 -7.38 L24.01 -10.46 L22.68 -12.30 L20.68 -12.91 M19.34 0.00 L20.68 0.00 M30.68 -0.61 L30.02 -1.23 L29.35 -0.61 L30.02 0.00 L30.68 -0.61 M40.69 -8.61 L42.69 -8.00 L44.02 -6.76 L44.69 -4.92 L44.69 -3.69 L44.02 -1.84 L42.69 -0.61 L40.69 0.00 L42.02 -0.61 L43.36 -1.84 L44.02 -3.69 L44.02 -4.92 L43.36 -6.76 L42.02 -8.00 L40.69 -8.61 L38.69 -8.61 L36.69 -8.00 L35.35 -6.76 L36.69 -12.91 L43.36 -12.91 L40.02 -12.30 L36.69 -12.30 M36.02 -2.46 L36.69 -3.08 L36.02 -3.69 L35.35 -3.08 L35.35 -2.46 L36.02 -1.23 L36.69 -0.61 L38.69 0.00 L40.69 0.00" stroke-width="1.9" />
<path transform="translate(168.50 105.30) translate(-0.00 0)" d="M3.33 -12.91 L3.33 -2.46 L4.00 -0.61 L5.34 0.00 L4.67 -0.61 L4.00 -2.46 L4.00 -12.91 M1.33 -8.61 L6.67 -8.61 M8.67 -1.84 L8.00 -0.61 L6.67 0.00 L5.34 0.00 M12.67 -7.38 L24.68 -7.38 M12.67 -3.69 L24.68 -3.69" stroke-width="1.9" />
<path transform="translate(206.52 105.30) translate(-0.00 0)" d="M7.34 -8.61 L9.34 -8.00 L10.67 -6.76 L11.34 -4.92 L11.34 -3.69 L10.67 -1.84 L9.34 -0.61 L7.34 0.00 L8.67 -0.61 L10.01 -1.84 L10.67 -3.69 L10.67 -4.92 L10.01 -6.76 L8.67 -8.00 L7.34 -8.61 L5.34 -8.61 L3.33 -8.00 L2.00 -6.76 L3.33 -12.91 L10.01 -12.91 L6.67 -12.30 L3.33 -12.30 M2.67 -2.46 L3.33 -3.08 L2.67 -3.69 L2.00 -3.08 L2.00 -2.46 L2.67 -1.23 L3.33 -0.61 L5.34 0.00 L7.34 0.00 M18.68 -12.91 L17.34 -12.30 L16.68 -11.07 L16.68 -9.22 L17.34 -8.00 L18.68 -7.38 L16.68 -8.00 L16.01 -9.22 L16.01 -11.07 L16.68 -12.30 L18.68 -12.91 L21.34 -12.91 L22.68 -12.30 L23.34 -11.07 L23.34 -9.22 L22.68 -8.00 L21.34 -7.38 L23.34 -8.00 L24.01 -9.22 L24.01 -11.07 L23.34 -12.30 L21.34 -12.91 M18.68 -7.38 L17.34 -6.76 L16.68 -6.15 L16.01 -4.92 L16.01 -2.46 L16.68 -1.23 L17.34 -0.61 L18.68 0.00 L16.68 -0.61 L16.01 -1.23 L15.34 -2.46 L15.34 -4.92 L16.01 -6.15 L16.68 -6.76 L18.68 -7.38 L21.34 -7.38 L22.68 -6.76 L23.34 -6.15 L24.01 -4.92 L24.01 -2.46 L23.34 -1.23 L22.68 -0.61 L21.34 0.00 L23.34 -0.61 L24.01 -1.23 L24.68 -2.46 L24.68 -4.92 L24.01 -6.15 L23.34 -6.76 L21.34 -7.38 M18.68 0.00 L21.34 0.00 M30.68 -0.61 L30.02 -1.23 L29.35 -0.61 L30.02 0.00 L30.68 -0.61 M36.02 -10.46 L36.69 -9.84 L36.02 -9.22 L35.35 -9.84 L35.35 -10.46 L36.02 -11.69 L36.69 -12.30 L38.69 -12.91 L41.35 -12.91 L42.69 -12.30 L43.36 -11.07 L43.36 -9.22 L42.69 -8.00 L41.35 -7.38 L43.36 -8.00 L44.02 -9.22 L44.02 -11.07 L43.36 -12.30 L41.35 -12.91 M39.35 -7.38 L41.35 -7.38 L42.69 -6.76 L44.02 -5.54 L44.69 -4.30 L44.69 -2.46 L44.02 -1.23 L43.36 -0.61 L41.35 0.00 L38.69 0.00 L36.69 -0.61 L36.02 -1.23 L35.35 -2.46 L35.35 -3.08 L36.02 -3.69 L36.69 -3.08 L36.02 -2.46 M43.36 -6.15 L44.02 -4.30 L44.02 -2.46 L43.36 -1.23 L42.69 -0.61 L41.35 0.00" stroke-width="1.9" />
<path transform="translate(168.50 122.80) translate(-0.00 0)" d="M3.33 -12.91 L3.33 -2.46 L4.00 -0.61 L5.34 0.00 L4.67 -0.61 L4.00 -2.46 L4.00 -12.91 M1.33 -8.61 L6.67 -8.61 M8.67 -1.84 L8.00 -0.61 L6.67 0.00 L5.34 0.00 M12.67 -7.38 L24.68 -7.38 M12.67 -3.69 L24.68 -3.69" stroke-width="1.45" />
<path transform="translate(206.52 122.80) translate(-0.00 0)" d="M6.00 -12.91 L4.67 -12.30 L3.33 -11.07 L2.67 -9.22 L2.67 -8.61 L3.33 -6.76 L4.67 -5.54 L6.00 -4.92 L4.00 -5.54 L2.67 -6.76 L2.00 -8.61 L2.00 -9.22 L2.67 -11.07 L4.00 -12.30 L6.00 -12.91 L7.34 -12.91 L8.67 -12.30 L10.01 -11.07 L10.67 -9.22 L10.67 -5.54 L10.01 -3.08 L9.34 -1.84 L8.00 -0.61 L6.67 0.00 L8.67 -0.61 L10.01 -1.84 L10.67 -3.08 L11.34 -5.54 L11.34 -9.22 L10.67 -11.07 L9.34 -12.30 L7.34 -12.91 M10.67 -8.61 L10.01 -6.76 L8.67 -5.54 L6.67 -4.92 L6.00 -4.92 M3.33 -1.84 L4.00 -2.46 L3.33 -3.08 L2.67 -2.46 L2.67 -1.84 L3.33 -0.61 L4.67 0.00 L6.67 0.00 M20.01 -12.91 L18.68 -12.30 L17.34 -11.07 L16.68 -9.84 L16.01 -7.38 L16.01 -3.69 L16.68 -1.84 L18.01 -0.61 L19.34 0.00 L17.34 -0.61 L16.01 -1.84 L15.34 -3.69 L15.34 -7.38 L16.01 -9.84 L16.68 -11.07 L18.01 -12.30 L20.01 -12.91 L22.01 -12.91 L23.34 -12.30 L24.01 -11.07 L24.01 -10.46 L23.34 -9.84 L22.68 -10.46 L23.34 -11.07 M16.01 -4.30 L16.68 -6.15 L18.01 -7.38 L20.01 -8.00 L20.68 -8.00 L22.01 -7.38 L23.34 -6.15 L24.01 -4.30 L24.01 -3.69 L23.34 -1.84 L22.01 -0.61 L20.68 0.00 L22.68 -0.61 L24.01 -1.84 L24.68 -3.69 L24.68 -4.30 L24.01 -6.15 L22.68 -7.38 L20.68 -8.00 M19.34 0.00 L20.68 0.00 M30.68 -0.61 L30.02 -1.23 L29.35 -0.61 L30.02 0.00 L30.68 -0.61 M38.69 -12.91 L37.35 -12.30 L36.69 -11.07 L36.69 -9.22 L37.35 -8.00 L38.69 -7.38 L36.69 -8.00 L36.02 -9.22 L36.02 -11.07 L36.69 -12.30 L38.69 -12.91 L41.35 -12.91 L42.69 -12.30 L43.36 -11.07 L43.36 -9.22 L42.69 -8.00 L41.35 -7.38 L43.36 -8.00 L44.02 -9.22 L44.02 -11.07 L43.36 -12.30 L41.35 -12.91 M38.69 -7.38 L37.35 -6.76 L36.69 -6.15 L36.02 -4.92 L36.02 -2.46 L36.69 -1.23 L37.35 -0.61 L38.69 0.00 L36.69 -0.61 L36.02 -1.23 L35.35 -2.46 L35.35 -4.92 L36.02 -6.15 L36.69 -6.76 L38.69 -7.38 L41.35 -7.38 L42.69 -6.76 L43.36 -6.15 L44.02 -4.92 L44.02 -2.46 L43.36 -1.23 L42.69 -0.61 L41.35 0.00 L43.36 -0.61 L44.02 -1.23 L44.69 -2.46 L44.69 -4.92 L44.02 -6.15 L43.36 -6.76 L41.35 -7.38 M38.69 0.00 L41.35 0.00" stroke-width="1.9" />
</g>
</svg>
</body></html>
